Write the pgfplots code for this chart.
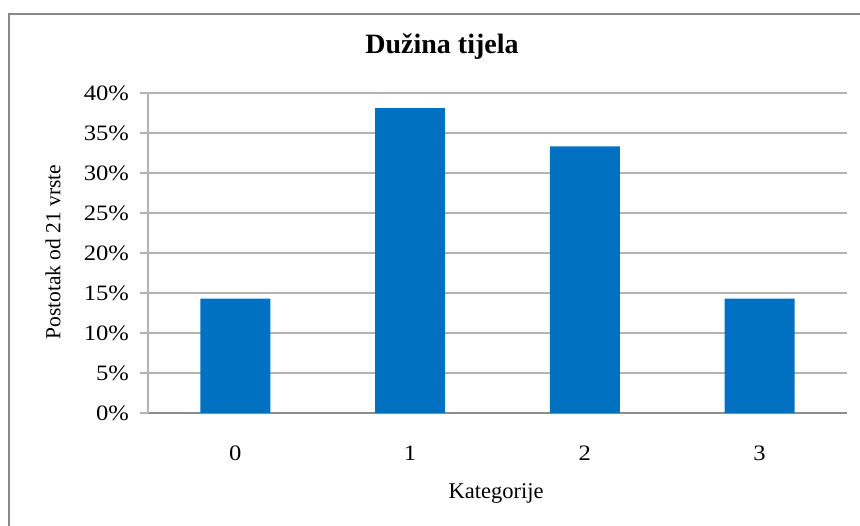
\documentclass[border=0pt]{standalone}
\usepackage{pgfplots}
\pgfplotsset{compat=1.18}
\usepackage{fontspec}
\setmainfont{Liberation Serif}
\newfontfamily\tickfont{Liberation Serif}[FakeStretch=1.12]
\definecolor{barblue}{HTML}{0070C0}
\definecolor{gridgray}{HTML}{B3B3B3}
\definecolor{axgray}{HTML}{8C8C8C}
\definecolor{bordergray}{HTML}{888888}
\begin{document}
\begin{tikzpicture}
\useasboundingbox (0pt,0pt) rectangle (860pt,526pt);
\clip (0pt,0pt) rectangle (860pt,526pt);
\draw[bordergray, line width=2pt] (9pt,-30pt) rectangle (900pt,512pt);
\begin{axis}[
  at={(148pt,113pt)}, anchor=south west,
  scale only axis, width=699pt, height=320pt,
  xmin=-0.5, xmax=3.5, ymin=0, ymax=40,
  ybar, bar width=70pt,
  xtick={0,1,2,3}, xticklabels={0,1,2,3},
  ytick={0,5,10,15,20,25,30,35,40},
  yticklabels={0\%,5\%,10\%,15\%,20\%,25\%,30\%,35\%,40\%},
  axis x line*=bottom, axis y line*=left,
  x axis line style={axgray, line width=1.5pt},
  y axis line style={gridgray, line width=1.5pt},
  xtick style={draw=none},
  ytick style={gridgray, line width=1.5pt},
  tick align=outside, major tick length=8pt,
  ymajorgrids, grid style={gridgray, line width=1.5pt},
  tick label style={font=\tickfont\fontsize{22}{26}\selectfont},
  yticklabel style={xshift=-7.5pt},
  xticklabel style={yshift=-21pt},
  title={Dužina tijela},
  title style={at={(axis description cs:0.4206,1.125)}, anchor=center, font=\fontsize{28}{32}\selectfont\bfseries},
  xlabel={Kategorije},
  xlabel style={at={(axis description cs:0.498,-0.25)}, anchor=center, font=\fontsize{22.5}{26}\selectfont},
  ylabel={Postotak od 21 vrste},
  ylabel style={at={(axis description cs:-0.136,0.503)}, anchor=center, font=\fontsize{21.5}{25}\selectfont},
]
\addplot[fill=barblue, draw=none] coordinates {(0,14.2857) (1,38.0952) (2,33.3333) (3,14.2857)};
\end{axis}
\end{tikzpicture}
\end{document}
